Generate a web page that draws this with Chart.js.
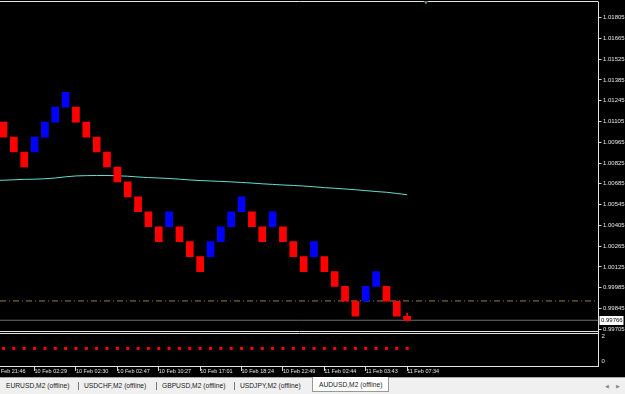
<!DOCTYPE html>
<html>
<head>
<meta charset="utf-8">
<script src="https://cdn.jsdelivr.net/npm/chart.js@4"></script>
<style>
  html, body { margin: 0; padding: 0; background: #000; overflow: hidden; }
  #wrap { position: relative; width: 625px; height: 394px; }
  canvas { display: block; }
  #tabs { position: absolute; left: 0; top: 377px; width: 625px; height: 17px; background: #f0f0f0;
          border-top: 1px solid #a8a8a8; box-sizing: border-box; font: 6.7px "Liberation Sans", sans-serif; color: #222; }
  .tab { position: absolute; top: 4px; white-space: nowrap; }
  .sep { position: absolute; top: 4px; width: 1px; height: 8px; background: #777; }
  .active { top: -1px; height: 15px; background: #fff; border: 1px solid #9a9a9a; border-top: none; box-sizing: border-box; padding: 4px 0 0 6px; }
  .arr { position: absolute; top: 5px; font: 5px "DejaVu Sans", sans-serif; color: #888; }
</style>
</head>
<body>
<div id="wrap">
  <canvas id="chart" width="625" height="377"></canvas>
  <div id="tabs">
    <span class="tab" style="left:6px">EURUSD,M2 (offline)</span>
    <i class="sep" style="left:78px"></i>
    <span class="tab" style="left:84px">USDCHF,M2 (offline)</span>
    <i class="sep" style="left:156px"></i>
    <span class="tab" style="left:162px">GBPUSD,M2 (offline)</span>
    <i class="sep" style="left:234px"></i>
    <span class="tab" style="left:240px">USDJPY,M2 (offline)</span>
    <span class="tab active" style="left:312px;width:77px">AUDUSD,M2 (offline)</span>
    <span class="arr" style="left:605px">&#9664;</span>
    <span class="arr" style="left:616px">&#9654;</span>
  </div>
</div>
<script>
// renko bricks (index 1..40), open / close prices
const brickIdx = [1, 2, 3, 4, 5, 6, 7, 8, 9, 10, 11, 12, 13, 14, 15, 16, 17, 18, 19, 20,
  21, 22, 23, 24, 25, 26, 27, 28, 29, 30, 31, 32, 33, 34, 35, 36, 37, 38, 39, 40];
const brickOpen = [1.01100, 1.00999, 1.00899, 1.00899, 1.00999, 1.01100, 1.01201, 1.01201, 1.01100, 1.00999,
  1.00899, 1.00798, 1.00698, 1.00597, 1.00497, 1.00396, 1.00396, 1.00396, 1.00296, 1.00195,
  1.00195, 1.00296, 1.00396, 1.00497, 1.00497, 1.00396, 1.00396, 1.00396, 1.00296, 1.00195,
  1.00195, 1.00195, 1.00094, 0.99994, 0.99894, 0.99894, 0.99994, 0.99994, 0.99894, 0.99793];
const brickClose = [1.00999, 1.00899, 1.00798, 1.00999, 1.01100, 1.01201, 1.01301, 1.01100, 1.00999, 1.00899,
  1.00798, 1.00698, 1.00597, 1.00497, 1.00396, 1.00296, 1.00497, 1.00296, 1.00195, 1.00094,
  1.00296, 1.00396, 1.00497, 1.00597, 1.00396, 1.00296, 1.00497, 1.00296, 1.00195, 1.00094,
  1.00296, 1.00094, 0.99994, 0.99894, 0.99793, 0.99994, 1.00094, 0.99894, 0.99793, 0.99766];
// last (forming) bar wick
const lastIdx = 40;
const lastHigh = 0.99812;
const lastLow = 0.99760;

// moving average, index 0..40
const maValues = [1.00707, 1.00709, 1.00712, 1.00715, 1.00716, 1.00719, 1.00724, 1.00732, 1.00738, 1.00740,
  1.00741, 1.00741, 1.00739, 1.00736, 1.00731, 1.00727, 1.00724, 1.00721, 1.00716, 1.00711,
  1.00707, 1.00704, 1.00701, 1.00698, 1.00694, 1.00690, 1.00685, 1.00681, 1.00677, 1.00674,
  1.00670, 1.00665, 1.00659, 1.00655, 1.00650, 1.00645, 1.00639, 1.00633, 1.00628, 1.00620, 1.00611];

// indicator window signal, index 1..40
const signal = [1, 1, 1, 1, 1, 1, 1, 1, 1, 1, 1, 1, 1, 1, 1, 1, 1, 1, 1, 1,
  1, 1, 1, 1, 1, 1, 1, 1, 1, 1, 1, 1, 1, 1, 1, 1, 1, 1, 1, 1];

const levelPrice = 0.99896;
const currentPrice = 0.99766;
const shiftMark = 41.82;

const priceTicks = [1.01805, 1.01665, 1.01525, 1.01385, 1.01245, 1.01105, 1.00965, 1.00825,
  1.00685, 1.00545, 1.00405, 1.00265, 1.00125, 0.99985, 0.99845, 0.99705];
const subTicks = [2, 0];
const timeTickIdx = [0, 4, 8, 12, 16, 20, 24, 28, 32, 36, 40];
const timeLabels = ['10 Feb 21:46', '10 Feb 02:29', '10 Feb 02:30', '10 Feb 02:47', '10 Feb 10:27', '10 Feb 17:01',
  '10 Feb 18:24', '10 Feb 22:49', '11 Feb 02:44', '11 Feb 03:43', '11 Feb 07:34'];

const X_MIN = 0.662;
const X_MAX = 58.49;

Chart.defaults.font.family = '"Liberation Sans", sans-serif';
Chart.defaults.font.size = 6;

const frame = {
  id: 'frame',
  afterDraw: (chart) => {
    const ctx = chart.ctx;
    const a = chart.chartArea;
    const y = chart.scales.y;
    const y2 = chart.scales.y2;
    ctx.save();
    ctx.strokeStyle = '#e4e4e4';
    ctx.lineWidth = 1;
    ctx.beginPath();
    ctx.moveTo(0, a.top - 0.5); ctx.lineTo(a.right, a.top - 0.5);
    ctx.moveTo(0, y.bottom - 0.5); ctx.lineTo(a.right, y.bottom - 0.5);
    ctx.moveTo(0, y2.top + 1.5); ctx.lineTo(a.right, y2.top + 1.5);
    ctx.stroke();

    // current price label
    const py = y.getPixelForValue(currentPrice);
    ctx.fillStyle = '#ffffff';
    ctx.fillRect(a.right + 1, Math.round(py) - 4, 24, 9);
    ctx.fillStyle = '#000000';
    ctx.font = '6px "Liberation Sans", sans-serif';
    ctx.textBaseline = 'middle';
    ctx.fillText(currentPrice.toFixed(5), a.right + 2.5, Math.round(py) + 0.5);

    // chart shift marker
    const sx = chart.scales.x.getPixelForValue(shiftMark);
    ctx.fillStyle = '#5f7d72';
    ctx.beginPath();
    ctx.moveTo(sx - 2.5, a.top - 1);
    ctx.lineTo(sx + 2.5, a.top - 1);
    ctx.lineTo(sx, a.top + 2.5);
    ctx.closePath();
    ctx.fill();
    ctx.restore();
  },
};

new Chart(document.getElementById('chart'), {
  data: {
    datasets: [
      {
        type: 'bar',
        data: brickIdx.map((x, i) => ({ x, y: [brickOpen[i], brickClose[i]] })),
        backgroundColor: brickIdx.map((x, i) => (brickClose[i] > brickOpen[i] ? '#0000ff' : '#ff0000')),
        borderWidth: 0,
        barThickness: 7,
        grouped: false,
        yAxisID: 'y',
      },
      {
        type: 'bar',
        data: [{ x: lastIdx, y: [lastLow, lastHigh] }],
        backgroundColor: '#ff0000',
        borderWidth: 0,
        barThickness: 1,
        grouped: false,
        yAxisID: 'y',
      },
      {
        type: 'line',
        data: maValues.map((v, i) => ({ x: i, y: v })),
        borderColor: '#66dccf',
        borderWidth: 1,
        pointRadius: 0,
        tension: 0,
        yAxisID: 'y',
      },
      {
        type: 'line',
        data: [{ x: X_MIN, y: levelPrice }, { x: X_MAX, y: levelPrice }],
        borderColor: '#a07a48',
        borderWidth: 1,
        borderDash: [6, 3, 1, 3],
        pointRadius: 0,
        yAxisID: 'y',
      },
      {
        type: 'line',
        data: [{ x: X_MIN, y: currentPrice }, { x: X_MAX, y: currentPrice }],
        borderColor: '#6e6e6e',
        borderWidth: 1,
        pointRadius: 0,
        yAxisID: 'y',
      },
      {
        type: 'line',
        data: brickIdx.map((x, i) => ({ x, y: signal[i] })),
        showLine: false,
        pointStyle: 'rect',
        pointRadius: 2.1,
        pointBorderWidth: 0,
        pointBackgroundColor: '#ff0000',
        yAxisID: 'y2',
      },
    ],
  },
  options: {
    responsive: false,
    animation: false,
    devicePixelRatio: 1,
    layout: { autoPadding: false, padding: { top: 2, left: 0, right: 0, bottom: 0 } },
    plugins: { legend: { display: false }, tooltip: { enabled: false } },
    scales: {
      x: {
        type: 'linear',
        position: 'bottom',
        offset: false,
        min: X_MIN,
        max: X_MAX,
        afterBuildTicks: (s) => { s.ticks = timeTickIdx.map((v) => ({ value: v })); },
        afterFit: (s) => { s.height = 11; s.paddingLeft = 0; s.paddingRight = 0; },
        ticks: {
          autoSkip: false, maxRotation: 0, minRotation: 0, align: 'start', padding: -2.5,
          color: '#e6e6e6', font: { size: 5.5 },
          callback: (v, i) => timeLabels[i],
        },
        grid: { drawOnChartArea: false, offset: false, tickLength: 5, color: '#d8d8d8' },
        border: { display: true, color: '#e4e4e4' },
      },
      y: {
        type: 'linear',
        position: 'right',
        stack: 'win',
        stackWeight: 330,
        min: 0.996869,
        max: 1.019094,
        afterBuildTicks: (s) => { s.ticks = priceTicks.map((v) => ({ value: v })); },
        afterFit: (s) => { s.width = 26.5; s.paddingTop = 0; s.paddingBottom = 0; },
        ticks: { autoSkip: false, padding: 1.5, color: '#e6e6e6', callback: (v) => v.toFixed(5) },
        grid: { drawOnChartArea: false, tickLength: 3, color: '#d8d8d8' },
        border: { display: true, color: '#e4e4e4' },
      },
      y2: {
        type: 'linear',
        position: 'right',
        stack: 'win',
        stackWeight: 34,
        min: -0.4,
        max: 2.32,
        afterBuildTicks: (s) => { s.ticks = subTicks.map((v) => ({ value: v })); },
        afterFit: (s) => { s.width = 26.5; s.paddingTop = 0; s.paddingBottom = 0; },
        ticks: { autoSkip: false, padding: 3, color: '#e6e6e6', callback: (v) => String(v) },
        grid: { drawOnChartArea: false, drawTicks: false },
        border: { display: true, color: '#e4e4e4' },
      },
    },
  },
  plugins: [frame],
});
</script>
</body>
</html>
